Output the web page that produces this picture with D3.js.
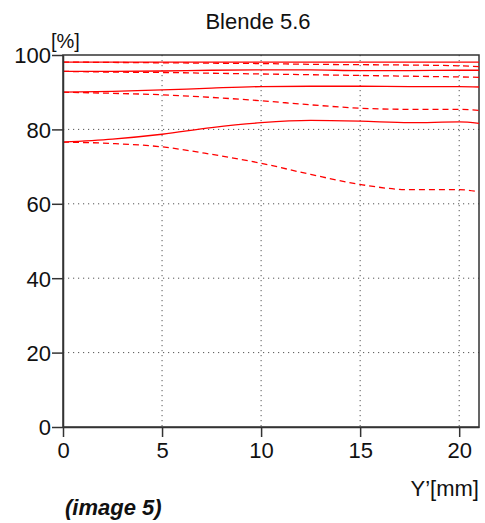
<!DOCTYPE html>
<html>
<head>
<meta charset="utf-8">
<script src="https://cdn.jsdelivr.net/npm/d3@7"></script>
<style>
body { margin: 0; background: #fff; }
svg text { font-family: "Liberation Sans", Arial, sans-serif; fill: #111; }
</style>
</head>
<body>
<div class="chart"></div>
<script>
// MTF chart, Blende 5.6
var xPos = [0, 2.5, 5, 7.5, 10, 12.5, 15, 17.5, 20, 21];
var yTicks = [0, 20, 40, 60, 80, 100];
var xTicks = [0, 5, 10, 15, 20];

var solid1 = [98.1, 98.1, 98.1, 98.1, 98.1, 98.1, 98.1, 98.1, 98.1, 98.1];
var dash1 = [98.1, 98.0, 97.9, 97.8, 97.7, 97.5, 97.4, 97.3, 97.1, 96.9];
var solid2 = [95.6, 95.6, 95.7, 95.9, 96.0, 96.0, 95.8, 95.8, 95.9, 95.9];
var dash2 = [95.6, 95.4, 95.3, 95.1, 94.9, 94.7, 94.5, 94.3, 94.1, 94.0];
var solid3 = [90.0, 90.2, 90.6, 91.1, 91.5, 91.6, 91.6, 91.5, 91.5, 91.4];
var dash3 = [90.0, 89.7, 89.3, 88.6, 87.7, 86.6, 85.7, 85.4, 85.4, 85.1];
var solid4 = [76.6, 77.4, 78.7, 80.5, 81.8, 82.4, 82.2, 81.8, 82.0, 81.6];
var dash4 = [76.6, 76.2, 75.3, 73.3, 70.9, 67.9, 65.2, 63.8, 63.8, 63.2];

var series = [
    {v: solid1, dash: false}, {v: dash1, dash: true},
    {v: solid2, dash: false}, {v: dash2, dash: true},
    {v: solid3, dash: false}, {v: dash3, dash: true},
    {v: solid4, dash: false}, {v: dash4, dash: true}
];

var svgWidth = 485;
var svgHeight = 523;
var margin = {top: 55, right: 6, bottom: 96, left: 63};
var chartWidth = svgWidth - margin.left - margin.right;
var chartHeight = svgHeight - margin.top - margin.bottom;

var svg = d3.select(".chart")
    .append("svg")
    .attr("width", svgWidth)
    .attr("height", svgHeight);

var chart = svg.append("g")
    .attr("transform", "translate(" + margin.left + "," + margin.top + ")");

var xScale = d3.scaleLinear().domain([0, 21]).range([0, chartWidth]);
var yScale = d3.scaleLinear().domain([0, 100]).range([chartHeight, 0]);

// grid
chart.selectAll(".hgrid")
    .data(yTicks.filter(function(d) { return d > 0 && d < 100; }))
    .enter().append("line")
    .attr("x1", 0).attr("x2", chartWidth)
    .attr("y1", function(d) { return yScale(d); })
    .attr("y2", function(d) { return yScale(d); })
    .attr("stroke", "#555").attr("stroke-width", 1)
    .attr("stroke-dasharray", "1.2,3.8");

chart.selectAll(".vgrid")
    .data(xTicks.filter(function(d) { return d > 0; }))
    .enter().append("line")
    .attr("y1", 0).attr("y2", chartHeight)
    .attr("x1", function(d) { return xScale(d); })
    .attr("x2", function(d) { return xScale(d); })
    .attr("stroke", "#555").attr("stroke-width", 1)
    .attr("stroke-dasharray", "1.2,3.8");

// frame
chart.append("rect")
    .attr("x", 0).attr("y", 0)
    .attr("width", chartWidth).attr("height", chartHeight)
    .attr("fill", "none").attr("stroke", "#333").attr("stroke-width", 1.5);

// curves
var line = d3.line()
    .x(function(d, i) { return xScale(xPos[i]); })
    .y(function(d) { return yScale(d); })
    .curve(d3.curveMonotoneX);

chart.selectAll(".curve")
    .data(series)
    .enter().append("path")
    .attr("d", function(s) { return line(s.v); })
    .attr("fill", "none")
    .attr("stroke", "#ff0000")
    .attr("stroke-width", 1.3)
    .attr("stroke-dasharray", function(s) { return s.dash ? "6,4" : null; });

// axes
var leftAxis = d3.axisLeft(yScale).tickValues(yTicks).tickSize(11).tickPadding(1).tickSizeOuter(0);
var bottomAxis = d3.axisBottom(xScale).tickValues(xTicks).tickSize(10).tickPadding(5).tickSizeOuter(0);

var gy = chart.append("g").call(leftAxis);
var gx = chart.append("g")
    .attr("transform", "translate(0," + chartHeight + ")")
    .call(bottomAxis);

[gx, gy].forEach(function(g) {
    g.select(".domain").attr("stroke", "#333").attr("stroke-width", 1.5);
    g.selectAll(".tick line").attr("stroke", "#333").attr("stroke-width", 1.5);
    g.selectAll(".tick text")
        .attr("font-size", 22)
        .attr("font-family", "Liberation Sans, Arial, sans-serif")
        .attr("fill", "#111");
});
gy.selectAll(".tick text").attr("dy", "0.36em");

// labels
svg.append("text")
    .attr("x", 258).attr("y", 29)
    .attr("text-anchor", "middle")
    .attr("font-size", 22)
    .text("Blende 5.6");

svg.append("text")
    .attr("x", 51).attr("y", 48)
    .attr("font-size", 20)
    .text("[%]");

svg.append("text")
    .attr("x", 479).attr("y", 496)
    .attr("text-anchor", "end")
    .attr("font-size", 22)
    .text("Y\u2019[mm]");

svg.append("text")
    .attr("x", 65).attr("y", 515)
    .attr("font-size", 22)
    .attr("font-weight", "bold")
    .attr("font-style", "italic")
    .text("(image 5)");
</script>
</body>
</html>
